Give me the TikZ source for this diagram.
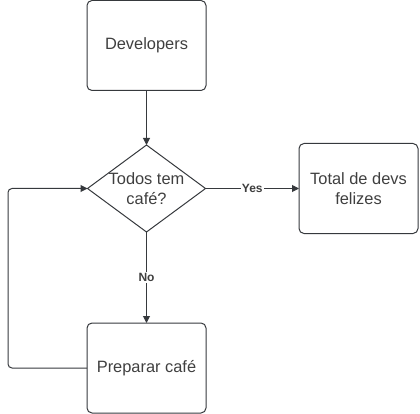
\documentclass[tikz,border=0pt]{standalone}
\usepackage{fontspec}
\setmainfont{Liberation Sans}
\usetikzlibrary{arrows.meta,shapes.geometric}
\definecolor{linegray}{HTML}{36393D}
\definecolor{textgray}{HTML}{3F3F3F}
\tikzset{
  stepbox/.style={draw=linegray,line width=1pt,rounded corners=5pt,minimum width=119pt,
    minimum height=90pt,inner sep=0pt,outer sep=0pt,align=center,text=textgray,
    font=\fontsize{16.4}{20}\selectfont},
  decision/.style={draw=linegray,line width=1pt,diamond,minimum width=118pt,
    minimum height=87pt,inner sep=0pt,outer sep=0pt},
  flow/.style={draw=linegray,line width=1pt,-{Triangle[length=7pt,width=7pt]}},
  edgelabel/.style={fill=white,inner sep=1pt,text=textgray,
    font=\fontsize{12}{14}\selectfont\bfseries}
}
\begin{document}
\begin{tikzpicture}[x=1pt,y=-1pt]
\useasboundingbox (0,0) rectangle (420,414);
\node[stepbox] (devs) at (146.5,45.5) {Developers};
\node[decision] (cafe) at (146.5,188.5) {};
\node[align=center,text=textgray,font=\fontsize{16.4}{20}\selectfont] (cafetext) at (cafe) {Todos tem\\café?};
\node[stepbox] (total) at (358.5,188.5) {Total de devs\\felizes};
\node[stepbox] (prep) at (146.5,368) {Preparar café};
\coordinate (loop) at (8,368);
\draw[flow] (devs) -- (cafe);
\draw[flow] (cafe.east) -- node[edgelabel] (yes) {Yes} (total.west);
\draw[flow] (cafe.south) -- node[edgelabel] (no) {No} (prep.north);
\draw[flow,rounded corners=4pt] (prep.west) -- (loop) |- (cafe.west);
\end{tikzpicture}
\end{document}
